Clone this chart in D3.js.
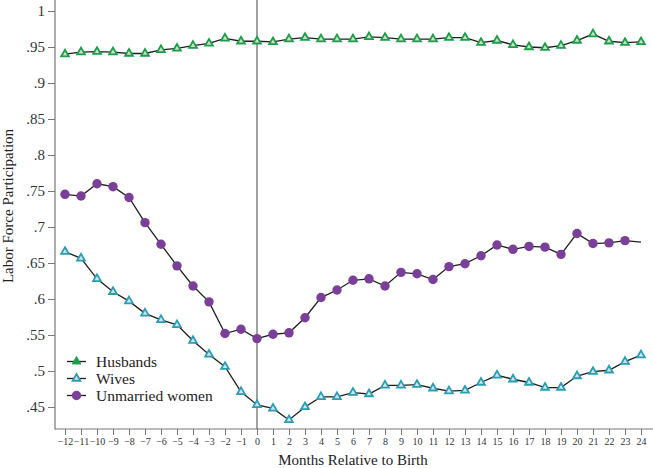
<!DOCTYPE html>
<html>
<head>
<meta charset="utf-8">
<script src="https://cdn.jsdelivr.net/npm/d3@7/dist/d3.min.js"></script>
<style>
  html, body { margin: 0; padding: 0; background: #fff; }
  svg { display: block; }
</style>
</head>
<body>
<svg id="chart" width="653" height="468"></svg>
<script>
const months = d3.range(-12, 25);
const husbands = [0.940, 0.943, 0.9435, 0.943, 0.941, 0.941, 0.946, 0.948, 0.952, 0.955, 0.962, 0.958, 0.958,
  0.957, 0.961, 0.963, 0.961, 0.961, 0.961, 0.964, 0.963, 0.961, 0.961, 0.961, 0.963, 0.963, 0.956, 0.959,
  0.953, 0.950, 0.949, 0.952, 0.959, 0.968, 0.958, 0.956, 0.957];
const wives = [0.6657, 0.6565, 0.628, 0.610, 0.597, 0.580, 0.571, 0.564, 0.542, 0.523, 0.506, 0.471, 0.453,
  0.448, 0.432, 0.450, 0.464, 0.464, 0.470, 0.468, 0.480, 0.480, 0.481, 0.476, 0.472, 0.473, 0.484, 0.494,
  0.4885, 0.484, 0.477, 0.477, 0.493, 0.499, 0.501, 0.513, 0.522];
const unmarried = [0.7454, 0.743, 0.760, 0.756, 0.741, 0.706, 0.676, 0.646, 0.618, 0.596, 0.552, 0.558, 0.545,
  0.551, 0.553, 0.574, 0.602, 0.6125, 0.626, 0.628, 0.618, 0.637, 0.635, 0.627, 0.645, 0.649, 0.660, 0.675,
  0.669, 0.673, 0.672, 0.662, 0.691, 0.677, 0.678, 0.681, 0.679];
// last unmarried point is drawn without a marker in the reference
const unmarriedMarker = months.map(m => m !== 24);
const yTicks = [0.45, 0.5, 0.55, 0.6, 0.65, 0.7, 0.75, 0.8, 0.85, 0.9, 0.95, 1];
const seriesNames = ["Husbands", "Wives", "Unmarried women"];

const svg = d3.select("#chart");
const font = "'Liberation Serif', 'Times New Roman', serif";
const mLeft = 55, mRight = 653, mTop = 0, mBottom = 429;

const x = d3.scaleLinear().domain([-12.625, 24.75]).range([mLeft, mRight]);
const y = d3.scaleLinear().domain([0.4194, 1.0153]).range([mBottom, mTop]);

const axisColor = "#777";

// Y axis
const yAxis = svg.append("g").attr("transform", `translate(${mLeft},0)`)
  .call(d3.axisLeft(y).tickValues(yTicks).tickSize(7).tickPadding(3)
    .tickFormat(d => d3.format(".2~f")(d).replace(/^0/, "")));
yAxis.select(".domain").remove();
yAxis.append("line").attr("x1", 0).attr("x2", 0).attr("y1", 0).attr("y2", mBottom + 0.5)
  .attr("stroke", axisColor).attr("stroke-width", 1.2);
yAxis.selectAll(".tick line").attr("stroke", axisColor).attr("stroke-width", 1);
yAxis.selectAll(".tick text").attr("font-family", font).attr("font-size", 15).attr("fill", "#333");

// X axis
const xAxis = svg.append("g").attr("transform", `translate(0,${mBottom})`)
  .call(d3.axisBottom(x).tickValues(months).tickSize(6).tickPadding(3)
    .tickFormat(d => d < 0 ? "\u2212" + Math.abs(d) : String(d)));
xAxis.select(".domain").remove();
xAxis.append("line").attr("x1", mLeft).attr("x2", mRight).attr("y1", 0).attr("y2", 0)
  .attr("stroke", axisColor).attr("stroke-width", 1.2);
xAxis.selectAll(".tick line").attr("stroke", axisColor).attr("stroke-width", 1);
xAxis.selectAll(".tick text").attr("font-family", font).attr("font-size", 10).attr("fill", "#333");

// Vertical line at birth
svg.append("line").attr("x1", x(0)).attr("x2", x(0)).attr("y1", mTop).attr("y2", mBottom)
  .attr("stroke", "#555").attr("stroke-width", 1.1);

// Axis titles
svg.append("text").attr("x", 353).attr("y", 465)
  .attr("text-anchor", "middle").attr("font-family", font).attr("font-size", 15).attr("fill", "#222")
  .text("Months Relative to Birth");
svg.append("text").attr("transform", "translate(13,206) rotate(-90)")
  .attr("text-anchor", "middle").attr("font-family", font).attr("font-size", 15).attr("fill", "#222")
  .text("Labor Force Participation");

const line = d3.line().x((d, i) => x(months[i])).y(d => y(d));
const lineColor = "#1e1e1e";

const green = "#1c9e48", teal = "#2a9db5", purple = "#7a3f98";
const tri = d3.symbol().type(d3.symbolTriangle).size(26);

function drawSeries(vals, kind) {
  svg.append("path").datum(vals).attr("d", line).attr("fill", "none")
    .attr("stroke", lineColor).attr("stroke-width", 1.3);
  const g = svg.append("g");
  vals.forEach((v, i) => {
    if (kind === "h") {
      g.append("path").attr("d", tri()).attr("transform", `translate(${x(months[i])},${y(v)})`)
        .attr("fill", "#c9dfcf").attr("stroke", green).attr("stroke-width", 1.8);
    } else if (kind === "w") {
      g.append("path").attr("d", tri()).attr("transform", `translate(${x(months[i])},${y(v)})`)
        .attr("fill", "#cfe7ec").attr("stroke", teal).attr("stroke-width", 1.8);
    } else if (unmarriedMarker[i]) {
      g.append("circle").attr("cx", x(months[i])).attr("cy", y(v)).attr("r", 4.7).attr("fill", purple);
    }
  });
}
drawSeries(husbands, "h");
drawSeries(wives, "w");
drawSeries(unmarried, "u");

// Legend
const legendY = [361.5, 378.5, 395.5];
const lg = svg.append("g");
seriesNames.forEach((name, i) => {
  const yy = legendY[i];
  lg.append("line").attr("x1", 67).attr("x2", 86).attr("y1", yy).attr("y2", yy)
    .attr("stroke", lineColor).attr("stroke-width", 1.3);
  if (i === 0) {
    lg.append("path").attr("d", d3.symbol().type(d3.symbolTriangle).size(34)())
      .attr("transform", `translate(76.5,${yy})`).attr("fill", green).attr("stroke", green).attr("stroke-width", 0.8);
  } else if (i === 1) {
    lg.append("path").attr("d", tri()).attr("transform", `translate(76.5,${yy})`)
      .attr("fill", "#cfe7ec").attr("stroke", teal).attr("stroke-width", 1.8);
  } else {
    lg.append("circle").attr("cx", 76.5).attr("cy", yy).attr("r", 4.7).attr("fill", purple);
  }
  lg.append("text").attr("x", 96).attr("y", yy + 5).attr("font-family", font).attr("font-size", 15.5)
    .attr("fill", "#222").text(name);
});
</script>
</body>
</html>
